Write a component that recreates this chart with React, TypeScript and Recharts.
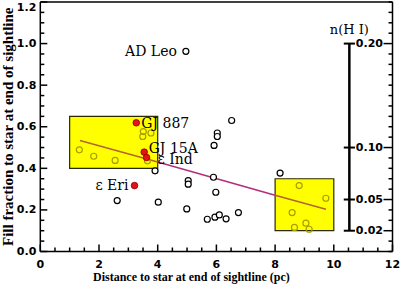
import React from "react";
import {
  ComposedChart,
  XAxis,
  YAxis,
  Scatter,
  Line,
  ReferenceArea,
  ReferenceLine,
  ReferenceDot,
} from "recharts";

// ---------- data ----------
// open (black) circles outside the highlighted boxes
const openX = [6.52, 6.03, 6.03, 5.92, 5.9, 5.98, 5.69, 5.95, 6.1, 6.33, 6.75, 8.17, 2.62, 4.02, 4.99, 5.04, 5.04, 3.91];
const openY = [0.63, 0.57, 0.553, 0.51, 0.357, 0.285, 0.155, 0.165, 0.176, 0.157, 0.187, 0.377, 0.245, 0.237, 0.205, 0.341, 0.324, 0.388];

// circles inside the yellow boxes
const inBoxX = [1.33, 1.82, 2.55, 3.65, 3.51, 3.77, 3.49, 8.82, 9.73, 8.58, 9.05, 8.66, 9.16];
const inBoxY = [0.489, 0.458, 0.438, 0.436, 0.577, 0.57, 0.553, 0.317, 0.256, 0.187, 0.136, 0.116, 0.107];

// named stars
const starNames = ["AD Leo", "GJ 887", "GJ 15A", "\u03b5 Ind", "\u03b5 Eri"];
const starX = [4.96, 3.27, 3.54, 3.62, 3.21];
const starY = [0.963, 0.619, 0.478, 0.452, 0.317];
const starRed = [false, true, true, true, true];

// fitted line, read at its ends and at the box edges
const fitX = [1.35, 4.0, 8.0, 9.73];
const fitY = [0.534, 0.43, 0.271, 0.203];

// highlighted boxes
const boxX1 = [1, 8];
const boxX2 = [4, 10];
const boxY1 = [0.4, 0.1];
const boxY2 = [0.65, 0.35];

// axes
const xTicks = [0, 2, 4, 6, 8, 10, 12];
const yTicks = [0, 0.2, 0.4, 0.6, 0.8, 1.0, 1.2];
const nTicks = [0.02, 0.05, 0.1, 0.2];
const nBarX = 10.53;
const xTitle = "Distance to star at end of sightline (pc)";
const yTitle = "Fill fraction to star at end of sightline";
const nTitle = "n(H I)";

// ---------- derived tables ----------
const openData = openX.map((x, i) => ({ x, y: openY[i] }));
const inBoxData = inBoxX.map((x, i) => ({ x, y: inBoxY[i] }));
const starData = starNames.map((name, i) => ({ name, x: starX[i], y: starY[i], red: starRed[i] }));
const fitData = fitX.map((x, i) => ({ x, y: fitY[i] }));
const fitA = fitData.slice(0, 2);
const fitB = fitData.slice(1, 3);
const fitC = fitData.slice(2, 4);
const xMinor = Array.from({ length: 25 }, (_, i) => i * 0.5);
const yMinor = Array.from({ length: 25 }, (_, i) => (i * 5) / 100);
const nMinor = Array.from({ length: 25 }, (_, i) => i / 100);
const isIn = (v: number, list: number[]) => list.some((t) => Math.abs(t - v) < 1e-6);

// ---------- styles ----------
const W = 400;
const H = 287;
const tickFont = { fontFamily: "DejaVu Sans", fontWeight: 700, fontSize: 11, fill: "#000" };
const axisStroke = { stroke: "#000", strokeWidth: 1.5 };
const MAJ = 7;
const MIN = 4;
const labelStyle: Record<string, { anchor: "start" | "end"; dx: number; dy: number }> = {
  "AD Leo": { anchor: "end", dx: -9, dy: 4.5 },
  "GJ 887": { anchor: "start", dx: 5, dy: 5.5 },
  "GJ 15A": { anchor: "start", dx: 4.5, dy: 1 },
  "\u03b5 Ind": { anchor: "start", dx: 11, dy: 6 },
  "\u03b5 Eri": { anchor: "end", dx: -6, dy: 4.5 },
};

const OpenDot = (p: any) => (
  <circle cx={p.cx} cy={p.cy} r={3} fill="#fff" stroke="#000" strokeWidth={1.2} />
);
const BoxDot = (p: any) => (
  <circle cx={p.cx} cy={p.cy} r={3} fill="none" stroke="#a89e00" strokeWidth={1.2} />
);
const StarDot = (p: any) => {
  const d = p.payload;
  const s = labelStyle[d.name];
  return (
    <g>
      {d.red ? (
        <circle cx={p.cx} cy={p.cy} r={3.3} fill="#e3121b" stroke="#8c0000" strokeWidth={0.8} />
      ) : (
        <circle cx={p.cx} cy={p.cy} r={3} fill="#fff" stroke="#000" strokeWidth={1.2} />
      )}
      <text
        x={p.cx + s.dx}
        y={p.cy + s.dy}
        textAnchor={s.anchor}
        style={{ fontFamily: "DejaVu Serif", fontSize: 14, fill: "#000" }}
      >
        {d.name}
      </text>
    </g>
  );
};

// left axis: tickMargin 4, tickSize 0 -> p.x = axis - 4
const LeftTick = (p: any) => {
  const v = p.payload.value;
  const major = isIn(v, yTicks);
  const ax = p.x + 4;
  const shift = v > 1.19 ? 5 : 0;
  return (
    <g>
      <line x1={ax} x2={ax + (major ? MAJ : MIN)} y1={p.y} y2={p.y} stroke="#000" strokeWidth={1.5} />
      {major && (
        <text x={p.x} y={p.y + shift} textAnchor="end" dominantBaseline="central" style={tickFont}>
          {v.toFixed(1)}
        </text>
      )}
    </g>
  );
};

// bottom axis: tickMargin 9 -> p.y = axis + 9
const BottomTick = (p: any) => {
  const v = p.payload.value;
  const major = isIn(v, xTicks);
  const ay = p.y - 9;
  return (
    <g>
      <line x1={p.x} x2={p.x} y1={ay} y2={ay - (major ? MAJ : MIN)} stroke="#000" strokeWidth={1.5} />
      {major && (
        <text x={p.x} y={p.y} dy="0.71em" textAnchor="middle" style={tickFont}>
          {String(v)}
        </text>
      )}
    </g>
  );
};

// top axis: tickMargin 0 -> p.y = axis
const TopTick = (p: any) => {
  const v = p.payload.value;
  const major = isIn(v, xTicks);
  return <line x1={p.x} x2={p.x} y1={p.y} y2={p.y + (major ? MAJ : MIN)} stroke="#000" strokeWidth={1.5} />;
};

// right n(H I) axis: tickMargin 0 -> p.x = axis
const RightTick = (p: any) => {
  const v = p.payload.value;
  const major = isIn(v, nTicks);
  return (
    <g>
      <line x1={p.x} x2={p.x - (major ? 9 : MIN)} y1={p.y} y2={p.y} stroke="#000" strokeWidth={1.5} />
      {major && (
        <text x={p.x - 9.5} y={p.y} textAnchor="end" dominantBaseline="central" style={tickFont}>
          {v.toFixed(2)}
        </text>
      )}
    </g>
  );
};

export default function App() {
  return (
    <div style={{ width: W, height: H }}>
      <style>{"body{margin:0}"}</style>
      <ComposedChart width={W} height={H} margin={{ top: 1, right: 6.5, bottom: 0, left: 0.3 }}>
        <XAxis
          xAxisId="x"
          dataKey="x"
          type="number"
          domain={[0, 12]}
          ticks={xMinor}
          allowDataOverflow
          height={35.5}
          tickSize={0}
          tickLine={false}
          tickMargin={9}
          axisLine={axisStroke}
          tick={<BottomTick />}
          interval={0}
          label={{
            value: xTitle,
            content: (lp: any) => {
              const vb = lp.viewBox;
              return (
                <text
                  x={vb.x + vb.width / 2 - 25}
                  y={vb.y + 29}
                  textAnchor="middle"
                  style={{ fontFamily: "Liberation Serif", fontWeight: 700, fontSize: 12, fill: "#000" }}
                >
                  {xTitle}
                </text>
              );
            },
          }}
        />
        <XAxis
          xAxisId="xT"
          orientation="top"
          type="number"
          domain={[0, 12]}
          ticks={xMinor}
          allowDataOverflow
          height={1}
          tickSize={0}
          tickMargin={0}
          tickLine={false}
          axisLine={axisStroke}
          tick={<TopTick />}
          interval={0}
        />
        <YAxis
          yAxisId="y"
          type="number"
          domain={[0, 1.2]}
          ticks={yMinor}
          allowDataOverflow
          width={40}
          tickSize={0}
          tickLine={false}
          tickMargin={4}
          axisLine={axisStroke}
          tick={<LeftTick />}
          interval={0}
          label={{
            value: yTitle,
            content: (lp: any) => {
              const vb = lp.viewBox;
              return (
                <text
                  transform={`translate(${vb.x + 12.5},${vb.y + vb.height / 2}) rotate(-90)`}
                  textAnchor="middle"
                  style={{ fontFamily: "Liberation Serif", fontWeight: 700, fontSize: 15, fill: "#000" }}
                >
                  {yTitle}
                </text>
              );
            },
          }}
        />
        <YAxis
          yAxisId="nR"
          orientation="right"
          type="number"
          domain={[0, 0.24]}
          ticks={nMinor}
          allowDataOverflow
          width={1}
          tickSize={0}
          tickMargin={0}
          tickLine={false}
          axisLine={axisStroke}
          tick={<RightTick />}
          interval={0}
        />

        {/* highlighted boxes */}
        {boxX1.map((x1, i) => (
          <ReferenceArea
            key={"box" + i}
            xAxisId="x"
            yAxisId="y"
            x1={x1}
            x2={boxX2[i]}
            y1={boxY1[i]}
            y2={boxY2[i]}
            fill="#ffff00"
            fillOpacity={1}
            stroke="#2a2a00"
            strokeWidth={1.2}
            ifOverflow="visible"
          />
        ))}

        {/* n(H I) scale bar */}
        <ReferenceLine
          xAxisId="x"
          yAxisId="nR"
          segment={[{ x: nBarX, y: nTicks[0] }, { x: nBarX, y: nTicks[nTicks.length - 1] }]}
          stroke="#000"
          strokeWidth={2.5}
          ifOverflow="visible"
        />
        {nTicks.map((v) => (
          <ReferenceLine
            key={"nt" + v}
            xAxisId="x"
            yAxisId="nR"
            segment={[{ x: nBarX - 0.19, y: v }, { x: nBarX + 0.19, y: v }]}
            stroke="#000"
            strokeWidth={2}
            ifOverflow="visible"
          />
        ))}
        <ReferenceDot
          xAxisId="x"
          yAxisId="nR"
          x={nBarX}
          y={nTicks[nTicks.length - 1]}
          r={0}
          stroke="none"
          ifOverflow="visible"
          label={{
            value: nTitle,
            position: "top",
            offset: 10,
            style: { fontFamily: "DejaVu Serif", fontSize: 13, fill: "#000" },
          }}
        />

        {/* points */}
        <Scatter xAxisId="x" yAxisId="y" data={inBoxData} dataKey="y" shape={BoxDot} isAnimationActive={false} />
        <Scatter xAxisId="x" yAxisId="y" data={openData} dataKey="y" shape={OpenDot} isAnimationActive={false} />

        {/* fitted line */}
        <Line xAxisId="x" yAxisId="y" data={fitA} dataKey="y" type="linear" stroke="#b0652d" strokeWidth={1.5} dot={false} activeDot={false} isAnimationActive={false} />
        <Line xAxisId="x" yAxisId="y" data={fitB} dataKey="y" type="linear" stroke="#b42d7d" strokeWidth={1.5} dot={false} activeDot={false} isAnimationActive={false} />
        <Line xAxisId="x" yAxisId="y" data={fitC} dataKey="y" type="linear" stroke="#b0652d" strokeWidth={1.5} dot={false} activeDot={false} isAnimationActive={false} />

        <Scatter xAxisId="x" yAxisId="y" data={starData} dataKey="y" shape={StarDot} isAnimationActive={false} />
      </ComposedChart>
    </div>
  );
}
